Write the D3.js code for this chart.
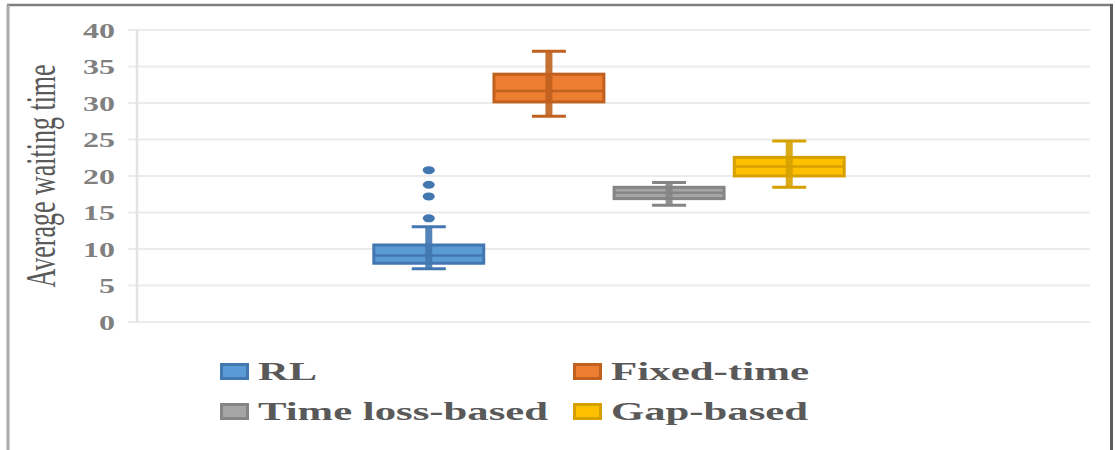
<!DOCTYPE html>
<html><head><meta charset="utf-8">
<script src="https://cdn.jsdelivr.net/npm/d3@7"></script>
<style>
html,body{margin:0;padding:0;background:#fff;}
svg{display:block;}
</style></head>
<body>
<svg id="chart" width="1115" height="450"></svg>
<script>
// ---- data ----
const seriesNames = ["RL", "Fixed-time", "Time loss-based", "Gap-based"];
const whiskerLow  = [7.3, 28.2, 16.0, 18.45];
const q1Values    = [8.05, 30.15, 16.9, 20.0];
const medians     = [9.1, 31.65, 17.7, 21.3];
const q3Values    = [10.55, 33.95, 18.45, 22.55];
const whiskerHigh = [13.05, 37.1, 19.1, 24.8];
const outliersRL  = [14.2, 17.2, 18.8, 20.8];
const outliers    = [outliersRL, [], [], []];
const yTicks      = [0, 5, 10, 15, 20, 25, 30, 35, 40];
const yTitle      = "Average waiting time";

// ---- style ----
const fills   = ["#5b9bd5", "#ed7d31", "#a5a5a5", "#ffc000"];
const strokes = ["#4277b0", "#c0611f", "#858585", "#d6a100"];
const SX = 1.6; // horizontal text stretch of the original picture

const svg = d3.select("#chart");

// frame (top, left, right)
svg.append("line").attr("x1", 7).attr("x2", 1113).attr("y1", 5).attr("y2", 5)
  .attr("stroke", "#7f7f7f").attr("stroke-width", 2.5);
svg.append("line").attr("x1", 8).attr("x2", 8).attr("y1", 5).attr("y2", 450)
  .attr("stroke", "#aaaaaa").attr("stroke-width", 3);
svg.append("line").attr("x1", 1111.5).attr("x2", 1111.5).attr("y1", 4).attr("y2", 450)
  .attr("stroke", "#5e5e5e").attr("stroke-width", 3);

const y = d3.scaleLinear().domain([0, 40]).range([322, 30]);
const x = d3.scaleBand().domain(seriesNames).range([132, 1086])
  .paddingInner(0.06).paddingOuter(2);

// gridlines
svg.append("g").selectAll("line").data(yTicks).join("line")
  .attr("x1", 128).attr("x2", 1090)
  .attr("y1", d => y(d)).attr("y2", d => y(d))
  .attr("stroke", "#ebebeb").attr("stroke-width", 2);
// vertical axis line
svg.append("line").attr("x1", 137).attr("x2", 137).attr("y1", y(40)).attr("y2", y(0))
  .attr("stroke", "#e3e3e3").attr("stroke-width", 2.5);

// y axis labels
const axis = svg.append("g").attr("transform", "translate(137,0)")
  .call(d3.axisLeft(y).tickValues(yTicks).tickSize(0).tickPadding(0).tickFormat(d3.format("d")));
axis.select(".domain").remove();
axis.selectAll("text")
  .attr("x", null)
  .attr("transform", "translate(-22,1) scale(" + SX + ",1)")
  .attr("font-family", "'Liberation Serif', 'Times New Roman', serif")
  .attr("font-size", 20).attr("font-weight", "bold").attr("fill", "#808080");

// y title
svg.append("text")
  .attr("transform", "translate(55,176) scale(" + SX + ",1) rotate(-90)")
  .attr("text-anchor", "middle")
  .attr("font-family", "'Liberation Serif', 'Times New Roman', serif")
  .attr("font-size", 26).attr("fill", "#5a5a5a")
  .text(yTitle);

// boxes
const bw = x.bandwidth();
seriesNames.forEach((name, i) => {
  const g = svg.append("g");
  const cx = x(name) + bw / 2;
  // box
  g.append("rect")
    .attr("x", x(name) + 1.5).attr("width", bw - 3)
    .attr("y", y(q3Values[i])).attr("height", y(q1Values[i]) - y(q3Values[i]))
    .attr("fill", fills[i]).attr("stroke", strokes[i]).attr("stroke-width", 3);
  // median
  g.append("line").attr("x1", x(name) + 1.5).attr("x2", x(name) + bw - 1.5)
    .attr("y1", y(medians[i])).attr("y2", y(medians[i]))
    .attr("stroke", strokes[i]).attr("stroke-width", 2.5);
  // whisker stem (with inner points)
  g.append("line").attr("x1", cx).attr("x2", cx)
    .attr("y1", y(whiskerHigh[i])).attr("y2", y(whiskerLow[i]))
    .attr("stroke", strokes[i]).attr("stroke-width", 7).attr("opacity", 0.9);
  // caps
  [whiskerHigh[i], whiskerLow[i]].forEach(v => {
    g.append("line").attr("x1", cx - 17).attr("x2", cx + 17)
      .attr("y1", y(v)).attr("y2", y(v))
      .attr("stroke", strokes[i]).attr("stroke-width", 3);
  });
  // outliers
  g.selectAll("ellipse").data(outliers[i]).join("ellipse")
    .attr("cx", cx).attr("cy", d => y(d)).attr("rx", 6).attr("ry", 4)
    .attr("fill", strokes[i]);
});

// legend
const legCols = [220, 573], legRows = [363, 403];
const legWidths = {"RL": 59, "Fixed-time": 198, "Time loss-based": 290, "Gap-based": 197};
const legendOrder = [0, 1, 2, 3];
legendOrder.forEach((i, k) => {
  const lx = legCols[k % 2], ly = legRows[Math.floor(k / 2)];
  svg.append("rect").attr("x", lx + 1.5).attr("y", ly + 1.5).attr("width", 26).attr("height", 14)
    .attr("fill", fills[i]).attr("stroke", strokes[i]).attr("stroke-width", 3);
  svg.append("text").attr("x", lx + 38).attr("y", ly + 17)
    .attr("font-family", "'Liberation Serif', 'Times New Roman', serif")
    .attr("font-size", 26).attr("font-weight", "bold").attr("fill", "#595959")
    .attr("textLength", legWidths[seriesNames[i]]).attr("lengthAdjust", "spacingAndGlyphs")
    .text(seriesNames[i]);
});
</script>
</body></html>
